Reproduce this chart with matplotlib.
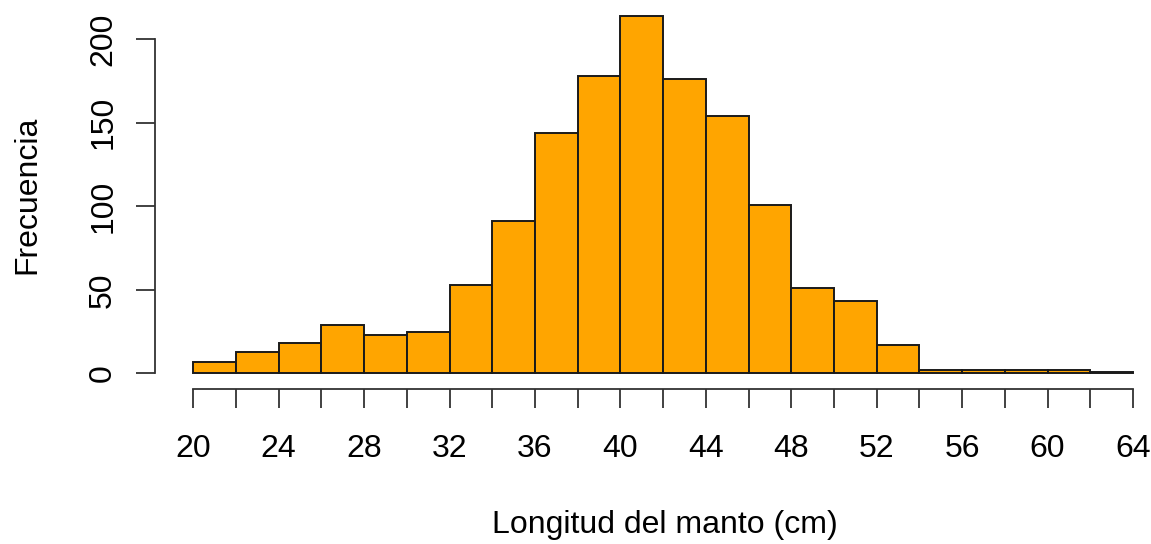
import numpy as np
import matplotlib.pyplot as plt

# histogram of mantle length, 2 cm bins from 20 to 64
bin_edges = np.arange(20, 66, 2)
counts = [7, 13, 18, 29, 23, 25, 53, 91, 144, 178, 214, 176, 154, 101,
          51, 43, 17, 2, 2, 2, 2, 1]
xticks_labeled = list(range(20, 65, 4))
yticks = [0, 50, 100, 150, 200]

plt.rcParams['font.family'] = ['Liberation Sans', 'DejaVu Sans']
fs = 23

W, H = 1151, 544
fig = plt.figure(figsize=(W / 100, H / 100), dpi=100)
# axes box in pixel terms: left 155, right 1140, top 10, bottom 389
ax = fig.add_axes([155 / W, (H - 389) / H, (1140 - 155) / W, (389 - 10) / H])

ax.bar(bin_edges[:-1], counts, width=2, align='edge',
       color='#FFA500', edgecolor='#1a1a1a', linewidth=1.4)

ax.set_xlim(18.207, 64.33)
ax.set_ylim(-9.4, 217.5)

for s in ['top', 'right']:
    ax.spines[s].set_visible(False)
ax.spines['left'].set_bounds(0, 200)
ax.spines['bottom'].set_bounds(20, 64)
for s in ['left', 'bottom']:
    ax.spines[s].set_linewidth(1.3)
    ax.spines[s].set_color('#333333')

ax.set_xticks(bin_edges)
ax.set_xticklabels([str(v) if v in xticks_labeled else '' for v in bin_edges])
ax.set_yticks(yticks)
ax.set_yticklabels([str(v) for v in yticks], rotation=90, va='center')

ax.tick_params(axis='x', length=13.5, width=1.3, color='#333333',
               pad=19, labelsize=fs)
ax.tick_params(axis='y', length=13.5, width=1.3, color='#333333',
               pad=13, labelsize=fs)

fig.text(12 / W, (H - 195) / H, 'Frecuencia', rotation=90,
         ha='left', va='center', fontsize=fs)
fig.text(665 / W, (H - 533) / H, 'Longitud del manto (cm)',
         ha='center', va='baseline', fontsize=fs)

fig.savefig('out.png', dpi=100)
